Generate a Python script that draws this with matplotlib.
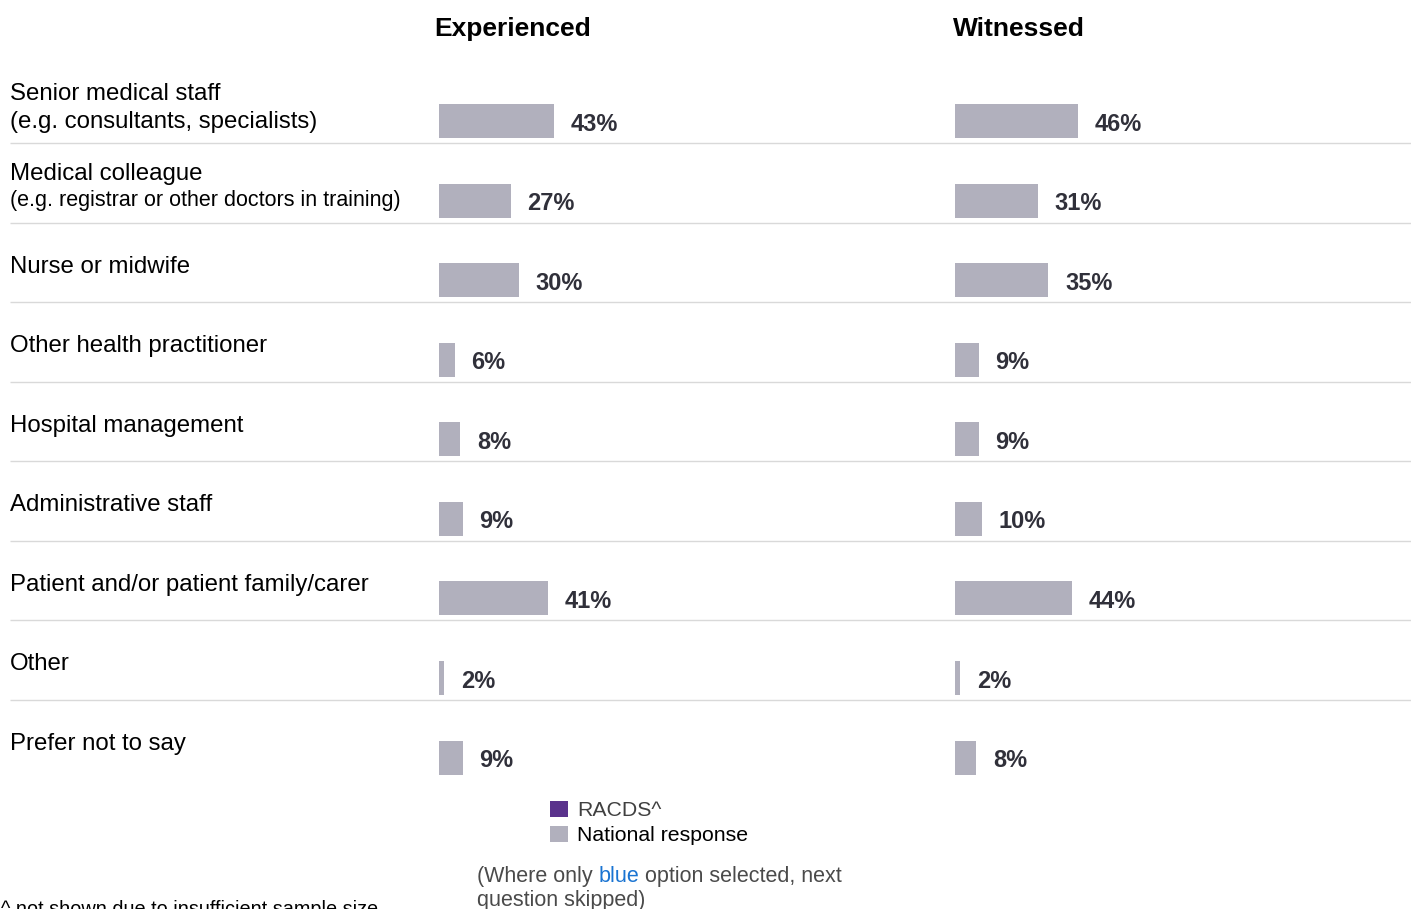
import matplotlib
matplotlib.use('Agg')
import matplotlib.pyplot as plt
from matplotlib.patches import Patch
import numpy as np

# ---------------- data ----------------
categories = [
    "Senior medical staff",
    "Medical colleague",
    "Nurse or midwife",
    "Other health practitioner",
    "Hospital management",
    "Administrative staff",
    "Patient and/or patient family/carer",
    "Other",
    "Prefer not to say",
]
sublabels = [
    "(e.g. consultants, specialists)",
    "(e.g. registrar or other doctors in training)",
    None, None, None, None, None, None, None,
]
experienced = [43, 27, 30, 6, 8, 9, 41, 2, 9]
witnessed = [46, 31, 35, 9, 9, 10, 44, 2, 8]
panel_titles = ["Experienced", "Witnessed"]
legend_labels = ["RACDS^", "National response"]

# ---------------- style ----------------
plt.rcParams['font.family'] = ['Liberation Sans', 'DejaVu Sans']
GRAY = '#b1b0bd'
PURPLE = '#5a328c'
VALUE_COLOR = '#30303a'
LINE_COLOR = '#d9d9d9'
LABEL_SIZE = 17.3

W, H, DPI = 1411, 909, 100
fig = plt.figure(figsize=(W / DPI, H / DPI), dpi=DPI)

n = len(categories)
PITCH = 79.57          # px per row
Y0 = 121.0             # px of first bar centre
top_px = Y0 - PITCH
bot_px = Y0 + PITCH * n
ax_bottom = 1 - bot_px / H
ax_height = (bot_px - top_px) / H

# background axes: labels and separators (x in pixels)
bg = fig.add_axes([0, ax_bottom, 1, ax_height])
bg.set_xlim(0, W)
bg.set_ylim(n, -1)
bg.axis('off')

bg.hlines(np.arange(n - 1) + 22 / PITCH, 10, W, color=LINE_COLOR, lw=1.0)

for i, (cat, sub) in enumerate(zip(categories, sublabels)):
    if sub is None:
        bg.text(10, i - 7.5 / PITCH, cat, fontsize=LABEL_SIZE, va='baseline', ha='left', color='black')
    else:
        sub_size = LABEL_SIZE if i == 0 else 15.5
        main_off = -21 if i == 0 else -20.5
        sub_off = 7 if i == 0 else 5.5
        bg.text(10, i + main_off / PITCH, cat, fontsize=LABEL_SIZE, va='baseline', ha='left', color='black')
        bg.text(10, i + sub_off / PITCH, sub, fontsize=sub_size, va='baseline', ha='left', color='black')

# bar panels
PX_PER_PCT = 2.67
panel_lefts = [439, 955]
title_centers = [512.5, 1019]
for left_px, vals, title, tc in zip(panel_lefts, [experienced, witnessed], panel_titles, title_centers):
    ax = fig.add_axes([left_px / W, ax_bottom, 100 * PX_PER_PCT / W, ax_height])
    ax.set_xlim(0, 100)
    ax.set_ylim(n, -1)
    ax.axis('off')
    ax.barh(np.arange(n), vals, height=34 / PITCH, color=GRAY, edgecolor='none')
    for i, v in enumerate(vals):
        ax.annotate(f"{v}%", xy=(v, i), xytext=(16.5 * 0.72, -9.6 * 0.72),
                    textcoords='offset points', ha='left', va='baseline',
                    fontsize=17, fontweight='bold', color=VALUE_COLOR,
                    annotation_clip=False)
    fig.text(tc / W, 1 - 36 / H, title, ha='center', va='baseline',
             fontsize=19, fontweight='bold', color='black')

# legend
leg = fig.legend(handles=[Patch(facecolor=PURPLE, edgecolor='none'),
                          Patch(facecolor=GRAY, edgecolor='none')],
                 labels=legend_labels, loc='upper left',
                 bbox_to_anchor=(550 / W, 1 - 800.5 / H), frameon=False,
                 fontsize=15.3, handlelength=0.84, handleheight=0.84,
                 handletextpad=0.42, labelspacing=0.25, borderpad=0,
                 borderaxespad=0)
leg.get_texts()[0].set_color('#404040')
leg.get_texts()[1].set_color('black')

# note with coloured word
NOTE_GRAY = '#4a4a4a'
t1 = fig.text(477 / W, 1 - 882 / H, "(Where only ", fontsize=15.5, color=NOTE_GRAY,
              ha='left', va='baseline')
t2 = bg.annotate("blue", xy=(1, 0), xycoords=t1, fontsize=15.5, color='#1a74d2',
                 ha='left', va='bottom', annotation_clip=False)
t3 = bg.annotate(" option selected, next", xy=(1, 0), xycoords=t2, fontsize=15.5,
                 color=NOTE_GRAY, ha='left', va='bottom', annotation_clip=False)
fig.text(477 / W, 1 - 906 / H, "question skipped)", fontsize=15.5, color=NOTE_GRAY,
         ha='left', va='baseline')

# footnote (partially cut off at the bottom edge, as in the reference)
fig.text(1 / W, 1 - 915 / H, "^ not shown due to insufficient sample size",
         fontsize=14.3, color='black', ha='left', va='baseline')

fig.savefig('out.png', dpi=DPI)
